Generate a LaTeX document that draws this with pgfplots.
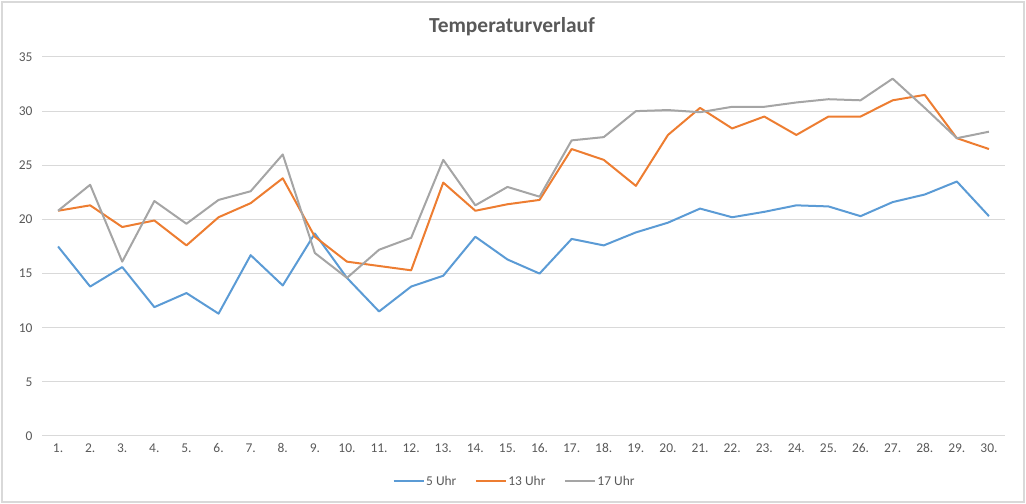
\documentclass[border=0pt]{standalone}
\usepackage{pgfplots}
\pgfplotsset{compat=1.18}
\usepackage{fontspec}
\setmainfont{Carlito}
\definecolor{cblue}{HTML}{5B9BD5}
\definecolor{corange}{HTML}{ED7D31}
\definecolor{cgray}{HTML}{A5A5A5}
\definecolor{ctext}{HTML}{595959}
\definecolor{cgrid}{HTML}{D9D9D9}
\begin{document}
\begin{tikzpicture}[x=1bp,y=1bp]
\useasboundingbox (0,0) rectangle (1026,504);
\draw[color=cgrid, line width=1.2bp] (2,2) rectangle (1024,502);
\node[text=ctext, font=\fontsize{21.5}{21.5}\selectfont\bfseries] at (512,477) {Temperaturverlauf};
\begin{axis}[
  at={(42bp,68bp)}, anchor=south west,
  scale only axis, width=963bp, height=379bp,
  xmin=0.5, xmax=30.5, ymin=0, ymax=35,
  ytick={0,5,...,35},
  xtick={1,...,30},
  xticklabels={1.,2.,3.,4.,5.,6.,7.,8.,9.,10.,11.,12.,13.,14.,15.,16.,17.,18.,19.,20.,21.,22.,23.,24.,25.,26.,27.,28.,29.,30.},
  /pgf/number format/assume math mode=true,
  ticklabel style={font=\fontsize{13.5}{13.5}\selectfont, text=ctext},
  yticklabel style={xshift=-6bp},
  xticklabel style={yshift=-4bp, text height=9bp, text depth=1bp},
  major tick length=0pt,
  axis line style={draw=none},
  ymajorgrids, grid style={cgrid, line width=1bp},
  legend columns=3,
  legend style={at={(0.4905,-0.119)}, anchor=center, draw=none, fill=none,
    font=\fontsize{13.5}{13.5}\selectfont, text=ctext,
    nodes={inner xsep=1.5bp},
    /tikz/every even column/.append style={column sep=17bp}},
  legend image code/.code={\draw[#1] (0bp,0bp) -- (30bp,0bp);},
  every axis plot/.append style={line width=2bp, line join=round},
]
\addplot[cblue] coordinates {
(1,17.5)(2,13.8)(3,15.6)(4,11.9)(5,13.2)(6,11.3)(7,16.7)(8,13.9)(9,18.7)(10,14.6)
(11,11.5)(12,13.8)(13,14.8)(14,18.4)(15,16.3)(16,15.0)(17,18.2)(18,17.6)(19,18.8)(20,19.7)
(21,21.0)(22,20.2)(23,20.7)(24,21.3)(25,21.2)(26,20.3)(27,21.6)(28,22.3)(29,23.5)(30,20.3)};
\addlegendentry{5 Uhr}
\addplot[corange] coordinates {
(1,20.8)(2,21.3)(3,19.3)(4,19.9)(5,17.6)(6,20.2)(7,21.5)(8,23.8)(9,18.4)(10,16.1)
(11,15.7)(12,15.3)(13,23.4)(14,20.8)(15,21.4)(16,21.8)(17,26.5)(18,25.5)(19,23.1)(20,27.8)
(21,30.3)(22,28.4)(23,29.5)(24,27.8)(25,29.5)(26,29.5)(27,31.0)(28,31.5)(29,27.5)(30,26.5)};
\addlegendentry{13 Uhr}
\addplot[cgray] coordinates {
(1,20.8)(2,23.2)(3,16.1)(4,21.7)(5,19.6)(6,21.8)(7,22.6)(8,26.0)(9,16.9)(10,14.6)
(11,17.2)(12,18.3)(13,25.5)(14,21.3)(15,23.0)(16,22.1)(17,27.3)(18,27.6)(19,30.0)(20,30.1)
(21,29.9)(22,30.4)(23,30.4)(24,30.8)(25,31.1)(26,31.0)(27,33.0)(28,30.3)(29,27.5)(30,28.1)};
\addlegendentry{17 Uhr}
\end{axis}
\end{tikzpicture}
\end{document}
